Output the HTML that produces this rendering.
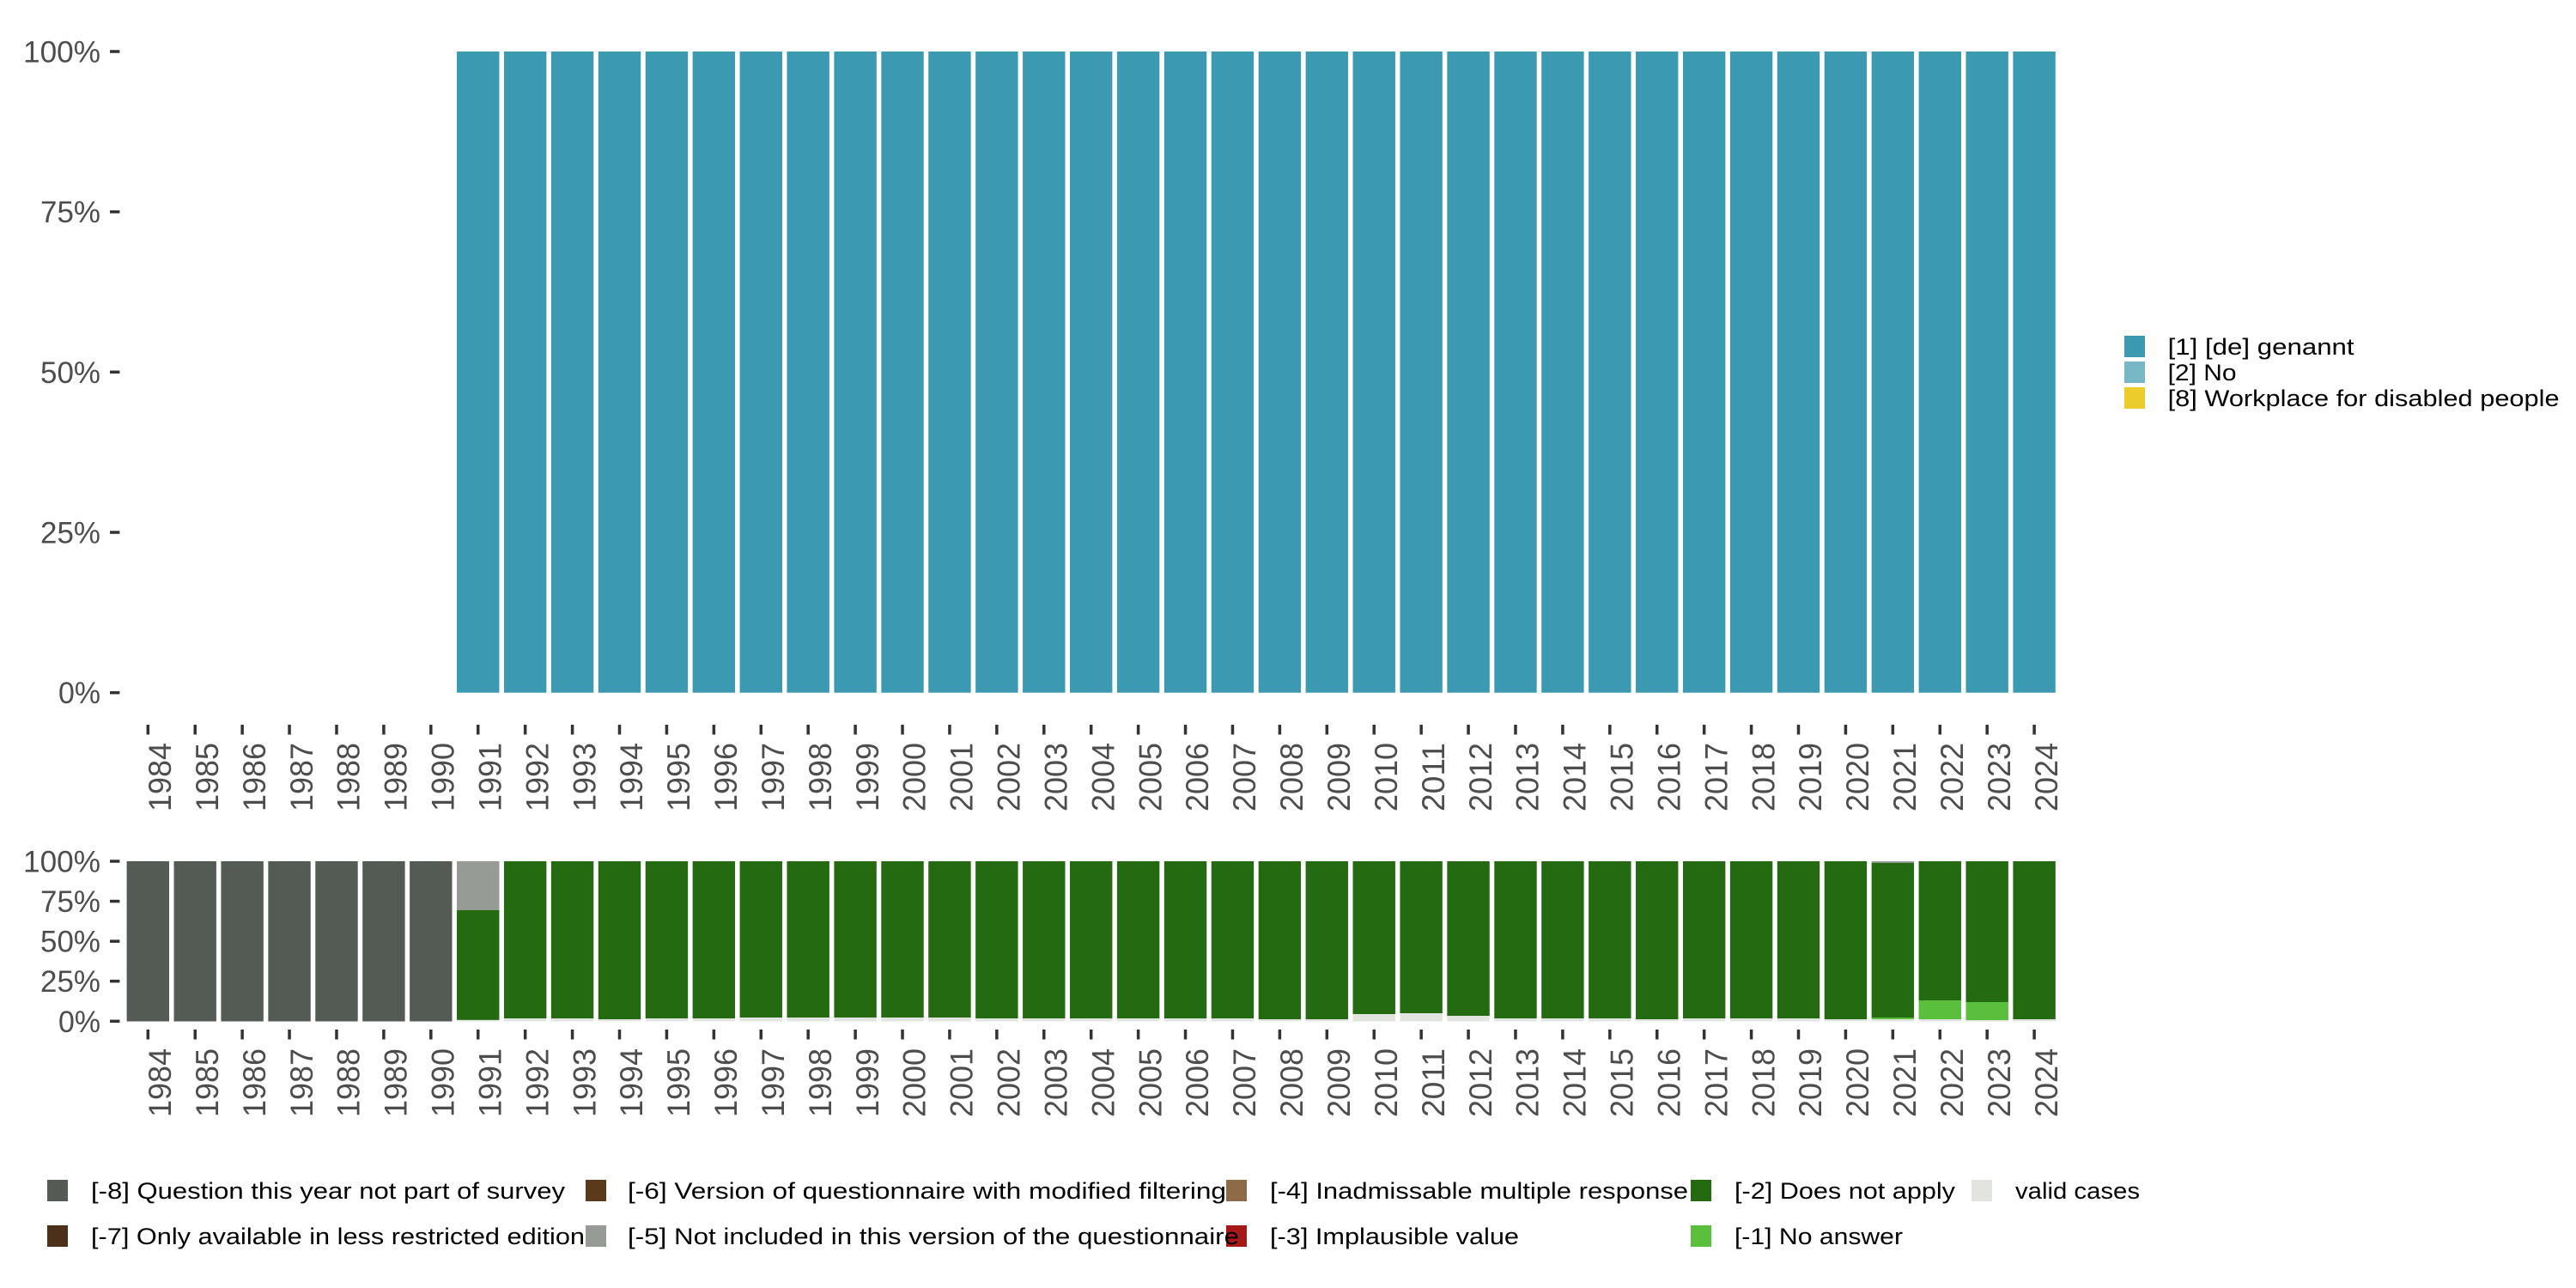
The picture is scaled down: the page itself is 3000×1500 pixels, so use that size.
<!DOCTYPE html>
<html>
<head>
<meta charset="utf-8">
<style>
html,body{margin:0;padding:0;background:#fff;}
svg{display:block;}
text{font-family:"Liberation Sans","DejaVu Sans",sans-serif;}
.ax{fill:#4D4D4D;font-size:35px;}
.axx{fill:#4D4D4D;font-size:37px;}
.lg{fill:#000;font-size:27px;}
</style>
</head>
<body>
<svg width="3000" height="1500" viewBox="0 0 3000 1500" xmlns="http://www.w3.org/2000/svg">
<rect x="0" y="0" width="3000" height="1500" fill="#fff"/>

<!-- ===== TOP PANEL ===== -->
<g fill="#3B9AB2">
<rect x="532.04" y="60" width="49.4" height="746.7"/>
<rect x="586.96" y="60" width="49.4" height="746.7"/>
<rect x="641.88" y="60" width="49.4" height="746.7"/>
<rect x="696.80" y="60" width="49.4" height="746.7"/>
<rect x="751.72" y="60" width="49.4" height="746.7"/>
<rect x="806.64" y="60" width="49.4" height="746.7"/>
<rect x="861.56" y="60" width="49.4" height="746.7"/>
<rect x="916.48" y="60" width="49.4" height="746.7"/>
<rect x="971.40" y="60" width="49.4" height="746.7"/>
<rect x="1026.32" y="60" width="49.4" height="746.7"/>
<rect x="1081.24" y="60" width="49.4" height="746.7"/>
<rect x="1136.16" y="60" width="49.4" height="746.7"/>
<rect x="1191.08" y="60" width="49.4" height="746.7"/>
<rect x="1246.00" y="60" width="49.4" height="746.7"/>
<rect x="1300.92" y="60" width="49.4" height="746.7"/>
<rect x="1355.84" y="60" width="49.4" height="746.7"/>
<rect x="1410.76" y="60" width="49.4" height="746.7"/>
<rect x="1465.68" y="60" width="49.4" height="746.7"/>
<rect x="1520.60" y="60" width="49.4" height="746.7"/>
<rect x="1575.52" y="60" width="49.4" height="746.7"/>
<rect x="1630.44" y="60" width="49.4" height="746.7"/>
<rect x="1685.36" y="60" width="49.4" height="746.7"/>
<rect x="1740.28" y="60" width="49.4" height="746.7"/>
<rect x="1795.20" y="60" width="49.4" height="746.7"/>
<rect x="1850.12" y="60" width="49.4" height="746.7"/>
<rect x="1905.04" y="60" width="49.4" height="746.7"/>
<rect x="1959.96" y="60" width="49.4" height="746.7"/>
<rect x="2014.88" y="60" width="49.4" height="746.7"/>
<rect x="2069.80" y="60" width="49.4" height="746.7"/>
<rect x="2124.72" y="60" width="49.4" height="746.7"/>
<rect x="2179.64" y="60" width="49.4" height="746.7"/>
<rect x="2234.56" y="60" width="49.4" height="746.7"/>
<rect x="2289.48" y="60" width="49.4" height="746.7"/>
<rect x="2344.40" y="60" width="49.4" height="746.7"/>
</g>

<!-- top y axis -->
<g fill="#333">
<rect x="128" y="58.25" width="11.4" height="3.5"/>
<rect x="128" y="244.95" width="11.4" height="3.5"/>
<rect x="128" y="431.55" width="11.4" height="3.5"/>
<rect x="128" y="618.25" width="11.4" height="3.5"/>
<rect x="128" y="804.95" width="11.4" height="3.5"/>
</g>
<g class="ax" text-anchor="end">
<text x="117" y="72.5" textLength="90" lengthAdjust="spacingAndGlyphs">100%</text>
<text x="117" y="259.2" textLength="70" lengthAdjust="spacingAndGlyphs">75%</text>
<text x="117" y="445.8" textLength="70" lengthAdjust="spacingAndGlyphs">50%</text>
<text x="117" y="632.5" textLength="70" lengthAdjust="spacingAndGlyphs">25%</text>
<text x="117" y="819.2" textLength="49" lengthAdjust="spacingAndGlyphs">0%</text>
</g>

<!-- top x ticks -->
<g fill="#333">
<rect x="170.55" y="844" width="3.5" height="11.5"/>
<rect x="225.47" y="844" width="3.5" height="11.5"/>
<rect x="280.39" y="844" width="3.5" height="11.5"/>
<rect x="335.31" y="844" width="3.5" height="11.5"/>
<rect x="390.23" y="844" width="3.5" height="11.5"/>
<rect x="445.15" y="844" width="3.5" height="11.5"/>
<rect x="500.07" y="844" width="3.5" height="11.5"/>
<rect x="554.99" y="844" width="3.5" height="11.5"/>
<rect x="609.91" y="844" width="3.5" height="11.5"/>
<rect x="664.83" y="844" width="3.5" height="11.5"/>
<rect x="719.75" y="844" width="3.5" height="11.5"/>
<rect x="774.67" y="844" width="3.5" height="11.5"/>
<rect x="829.59" y="844" width="3.5" height="11.5"/>
<rect x="884.51" y="844" width="3.5" height="11.5"/>
<rect x="939.43" y="844" width="3.5" height="11.5"/>
<rect x="994.35" y="844" width="3.5" height="11.5"/>
<rect x="1049.27" y="844" width="3.5" height="11.5"/>
<rect x="1104.19" y="844" width="3.5" height="11.5"/>
<rect x="1159.11" y="844" width="3.5" height="11.5"/>
<rect x="1214.03" y="844" width="3.5" height="11.5"/>
<rect x="1268.95" y="844" width="3.5" height="11.5"/>
<rect x="1323.87" y="844" width="3.5" height="11.5"/>
<rect x="1378.79" y="844" width="3.5" height="11.5"/>
<rect x="1433.71" y="844" width="3.5" height="11.5"/>
<rect x="1488.63" y="844" width="3.5" height="11.5"/>
<rect x="1543.55" y="844" width="3.5" height="11.5"/>
<rect x="1598.47" y="844" width="3.5" height="11.5"/>
<rect x="1653.39" y="844" width="3.5" height="11.5"/>
<rect x="1708.31" y="844" width="3.5" height="11.5"/>
<rect x="1763.23" y="844" width="3.5" height="11.5"/>
<rect x="1818.15" y="844" width="3.5" height="11.5"/>
<rect x="1873.07" y="844" width="3.5" height="11.5"/>
<rect x="1927.99" y="844" width="3.5" height="11.5"/>
<rect x="1982.91" y="844" width="3.5" height="11.5"/>
<rect x="2037.83" y="844" width="3.5" height="11.5"/>
<rect x="2092.75" y="844" width="3.5" height="11.5"/>
<rect x="2147.67" y="844" width="3.5" height="11.5"/>
<rect x="2202.59" y="844" width="3.5" height="11.5"/>
<rect x="2257.51" y="844" width="3.5" height="11.5"/>
<rect x="2312.43" y="844" width="3.5" height="11.5"/>
<rect x="2367.35" y="844" width="3.5" height="11.5"/>
</g>

<!-- top x labels -->
<g class="axx" text-anchor="end">
<text transform="translate(199.0,865) rotate(-90)" textLength="80" lengthAdjust="spacingAndGlyphs">1984</text>
<text transform="translate(253.9,865) rotate(-90)" textLength="80" lengthAdjust="spacingAndGlyphs">1985</text>
<text transform="translate(308.8,865) rotate(-90)" textLength="80" lengthAdjust="spacingAndGlyphs">1986</text>
<text transform="translate(363.8,865) rotate(-90)" textLength="80" lengthAdjust="spacingAndGlyphs">1987</text>
<text transform="translate(418.7,865) rotate(-90)" textLength="80" lengthAdjust="spacingAndGlyphs">1988</text>
<text transform="translate(473.6,865) rotate(-90)" textLength="80" lengthAdjust="spacingAndGlyphs">1989</text>
<text transform="translate(528.5,865) rotate(-90)" textLength="80" lengthAdjust="spacingAndGlyphs">1990</text>
<text transform="translate(583.4,865) rotate(-90)" textLength="80" lengthAdjust="spacingAndGlyphs">1991</text>
<text transform="translate(638.4,865) rotate(-90)" textLength="80" lengthAdjust="spacingAndGlyphs">1992</text>
<text transform="translate(693.3,865) rotate(-90)" textLength="80" lengthAdjust="spacingAndGlyphs">1993</text>
<text transform="translate(748.2,865) rotate(-90)" textLength="80" lengthAdjust="spacingAndGlyphs">1994</text>
<text transform="translate(803.1,865) rotate(-90)" textLength="80" lengthAdjust="spacingAndGlyphs">1995</text>
<text transform="translate(858.0,865) rotate(-90)" textLength="80" lengthAdjust="spacingAndGlyphs">1996</text>
<text transform="translate(913.0,865) rotate(-90)" textLength="80" lengthAdjust="spacingAndGlyphs">1997</text>
<text transform="translate(967.9,865) rotate(-90)" textLength="80" lengthAdjust="spacingAndGlyphs">1998</text>
<text transform="translate(1022.8,865) rotate(-90)" textLength="80" lengthAdjust="spacingAndGlyphs">1999</text>
<text transform="translate(1077.7,865) rotate(-90)" textLength="80" lengthAdjust="spacingAndGlyphs">2000</text>
<text transform="translate(1132.6,865) rotate(-90)" textLength="80" lengthAdjust="spacingAndGlyphs">2001</text>
<text transform="translate(1187.6,865) rotate(-90)" textLength="80" lengthAdjust="spacingAndGlyphs">2002</text>
<text transform="translate(1242.5,865) rotate(-90)" textLength="80" lengthAdjust="spacingAndGlyphs">2003</text>
<text transform="translate(1297.4,865) rotate(-90)" textLength="80" lengthAdjust="spacingAndGlyphs">2004</text>
<text transform="translate(1352.3,865) rotate(-90)" textLength="80" lengthAdjust="spacingAndGlyphs">2005</text>
<text transform="translate(1407.2,865) rotate(-90)" textLength="80" lengthAdjust="spacingAndGlyphs">2006</text>
<text transform="translate(1462.2,865) rotate(-90)" textLength="80" lengthAdjust="spacingAndGlyphs">2007</text>
<text transform="translate(1517.1,865) rotate(-90)" textLength="80" lengthAdjust="spacingAndGlyphs">2008</text>
<text transform="translate(1572.0,865) rotate(-90)" textLength="80" lengthAdjust="spacingAndGlyphs">2009</text>
<text transform="translate(1626.9,865) rotate(-90)" textLength="80" lengthAdjust="spacingAndGlyphs">2010</text>
<text transform="translate(1681.8,865) rotate(-90)" textLength="80" lengthAdjust="spacingAndGlyphs">2011</text>
<text transform="translate(1736.8,865) rotate(-90)" textLength="80" lengthAdjust="spacingAndGlyphs">2012</text>
<text transform="translate(1791.7,865) rotate(-90)" textLength="80" lengthAdjust="spacingAndGlyphs">2013</text>
<text transform="translate(1846.6,865) rotate(-90)" textLength="80" lengthAdjust="spacingAndGlyphs">2014</text>
<text transform="translate(1901.5,865) rotate(-90)" textLength="80" lengthAdjust="spacingAndGlyphs">2015</text>
<text transform="translate(1956.4,865) rotate(-90)" textLength="80" lengthAdjust="spacingAndGlyphs">2016</text>
<text transform="translate(2011.4,865) rotate(-90)" textLength="80" lengthAdjust="spacingAndGlyphs">2017</text>
<text transform="translate(2066.3,865) rotate(-90)" textLength="80" lengthAdjust="spacingAndGlyphs">2018</text>
<text transform="translate(2121.2,865) rotate(-90)" textLength="80" lengthAdjust="spacingAndGlyphs">2019</text>
<text transform="translate(2176.1,865) rotate(-90)" textLength="80" lengthAdjust="spacingAndGlyphs">2020</text>
<text transform="translate(2231.0,865) rotate(-90)" textLength="80" lengthAdjust="spacingAndGlyphs">2021</text>
<text transform="translate(2286.0,865) rotate(-90)" textLength="80" lengthAdjust="spacingAndGlyphs">2022</text>
<text transform="translate(2340.9,865) rotate(-90)" textLength="80" lengthAdjust="spacingAndGlyphs">2023</text>
<text transform="translate(2395.8,865) rotate(-90)" textLength="80" lengthAdjust="spacingAndGlyphs">2024</text>
</g>

<!-- top legend -->
<rect x="2474" y="391" width="24" height="25" fill="#3B9AB2"/>
<rect x="2474" y="421" width="24" height="25" fill="#78B7C5"/>
<rect x="2474" y="451" width="24" height="25" fill="#EBCC2A"/>
<g class="lg">
<text x="2524.6" y="413" textLength="217" lengthAdjust="spacingAndGlyphs">[1] [de] genannt</text>
<text x="2524.6" y="443" textLength="80" lengthAdjust="spacingAndGlyphs">[2] No</text>
<text x="2524.6" y="473" textLength="456" lengthAdjust="spacingAndGlyphs">[8] Workplace for disabled people</text>
</g>

<!-- ===== BOTTOM PANEL ===== -->
<g fill="#545A54">
<rect x="147.60" y="1003" width="49.4" height="186.5"/>
<rect x="202.52" y="1003" width="49.4" height="186.5"/>
<rect x="257.44" y="1003" width="49.4" height="186.5"/>
<rect x="312.36" y="1003" width="49.4" height="186.5"/>
<rect x="367.28" y="1003" width="49.4" height="186.5"/>
<rect x="422.20" y="1003" width="49.4" height="186.5"/>
<rect x="477.12" y="1003" width="49.4" height="186.5"/>
</g>
<g fill="#E1E4DF">
<rect x="532.04" y="1003" width="49.4" height="186.5"/>
<rect x="586.96" y="1003" width="49.4" height="186.5"/>
<rect x="641.88" y="1003" width="49.4" height="186.5"/>
<rect x="696.80" y="1003" width="49.4" height="186.5"/>
<rect x="751.72" y="1003" width="49.4" height="186.5"/>
<rect x="806.64" y="1003" width="49.4" height="186.5"/>
<rect x="861.56" y="1003" width="49.4" height="186.5"/>
<rect x="916.48" y="1003" width="49.4" height="186.5"/>
<rect x="971.40" y="1003" width="49.4" height="186.5"/>
<rect x="1026.32" y="1003" width="49.4" height="186.5"/>
<rect x="1081.24" y="1003" width="49.4" height="186.5"/>
<rect x="1136.16" y="1003" width="49.4" height="186.5"/>
<rect x="1191.08" y="1003" width="49.4" height="186.5"/>
<rect x="1246.00" y="1003" width="49.4" height="186.5"/>
<rect x="1300.92" y="1003" width="49.4" height="186.5"/>
<rect x="1355.84" y="1003" width="49.4" height="186.5"/>
<rect x="1410.76" y="1003" width="49.4" height="186.5"/>
<rect x="1465.68" y="1003" width="49.4" height="186.5"/>
<rect x="1520.60" y="1003" width="49.4" height="186.5"/>
<rect x="1575.52" y="1003" width="49.4" height="186.5"/>
<rect x="1630.44" y="1003" width="49.4" height="186.5"/>
<rect x="1685.36" y="1003" width="49.4" height="186.5"/>
<rect x="1740.28" y="1003" width="49.4" height="186.5"/>
<rect x="1795.20" y="1003" width="49.4" height="186.5"/>
<rect x="1850.12" y="1003" width="49.4" height="186.5"/>
<rect x="1905.04" y="1003" width="49.4" height="186.5"/>
<rect x="1959.96" y="1003" width="49.4" height="186.5"/>
<rect x="2014.88" y="1003" width="49.4" height="186.5"/>
<rect x="2069.80" y="1003" width="49.4" height="186.5"/>
<rect x="2124.72" y="1003" width="49.4" height="186.5"/>
<rect x="2179.64" y="1003" width="49.4" height="186.5"/>
<rect x="2234.56" y="1003" width="49.4" height="186.5"/>
<rect x="2289.48" y="1003" width="49.4" height="186.5"/>
<rect x="2344.40" y="1003" width="49.4" height="186.5"/>
</g>
<g fill="#5BBF3E">
<rect x="2179.64" y="1185" width="49.4" height="2"/>
<rect x="2234.56" y="1165" width="49.4" height="22"/>
<rect x="2289.48" y="1167" width="49.4" height="21"/>
</g>
<g fill="#236A11">
<rect x="532.04" y="1060" width="49.4" height="127.8"/>
<rect x="586.96" y="1003" width="49.4" height="183"/>
<rect x="641.88" y="1003" width="49.4" height="183"/>
<rect x="696.80" y="1003" width="49.4" height="184"/>
<rect x="751.72" y="1003" width="49.4" height="183"/>
<rect x="806.64" y="1003" width="49.4" height="183"/>
<rect x="861.56" y="1003" width="49.4" height="182"/>
<rect x="916.48" y="1003" width="49.4" height="182"/>
<rect x="971.40" y="1003" width="49.4" height="182"/>
<rect x="1026.32" y="1003" width="49.4" height="182"/>
<rect x="1081.24" y="1003" width="49.4" height="182"/>
<rect x="1136.16" y="1003" width="49.4" height="183"/>
<rect x="1191.08" y="1003" width="49.4" height="183"/>
<rect x="1246.00" y="1003" width="49.4" height="183"/>
<rect x="1300.92" y="1003" width="49.4" height="183"/>
<rect x="1355.84" y="1003" width="49.4" height="183"/>
<rect x="1410.76" y="1003" width="49.4" height="183"/>
<rect x="1465.68" y="1003" width="49.4" height="184"/>
<rect x="1520.60" y="1003" width="49.4" height="184"/>
<rect x="1575.52" y="1003" width="49.4" height="178"/>
<rect x="1630.44" y="1003" width="49.4" height="177"/>
<rect x="1685.36" y="1003" width="49.4" height="180"/>
<rect x="1740.28" y="1003" width="49.4" height="183"/>
<rect x="1795.20" y="1003" width="49.4" height="183"/>
<rect x="1850.12" y="1003" width="49.4" height="183"/>
<rect x="1905.04" y="1003" width="49.4" height="184"/>
<rect x="1959.96" y="1003" width="49.4" height="183"/>
<rect x="2014.88" y="1003" width="49.4" height="183"/>
<rect x="2069.80" y="1003" width="49.4" height="183"/>
<rect x="2124.72" y="1003" width="49.4" height="184"/>
<rect x="2179.64" y="1005" width="49.4" height="180"/>
<rect x="2234.56" y="1003" width="49.4" height="162"/>
<rect x="2289.48" y="1003" width="49.4" height="164"/>
<rect x="2344.40" y="1003" width="49.4" height="184"/>
</g>
<g fill="#979B95">
<rect x="532.04" y="1003" width="49.4" height="57"/>
<rect x="2179.64" y="1003" width="49.4" height="2"/>
</g>

<!-- bottom y axis -->
<g fill="#333">
<rect x="128" y="1001.25" width="11.4" height="3.5"/>
<rect x="128" y="1047.85" width="11.4" height="3.5"/>
<rect x="128" y="1094.45" width="11.4" height="3.5"/>
<rect x="128" y="1140.95" width="11.4" height="3.5"/>
<rect x="128" y="1187.55" width="11.4" height="3.5"/>
</g>
<g class="ax" text-anchor="end">
<text x="117" y="1015.5" textLength="90" lengthAdjust="spacingAndGlyphs">100%</text>
<text x="117" y="1062.1" textLength="70" lengthAdjust="spacingAndGlyphs">75%</text>
<text x="117" y="1108.7" textLength="70" lengthAdjust="spacingAndGlyphs">50%</text>
<text x="117" y="1155.2" textLength="70" lengthAdjust="spacingAndGlyphs">25%</text>
<text x="117" y="1201.8" textLength="49" lengthAdjust="spacingAndGlyphs">0%</text>
</g>

<!-- bottom x ticks -->
<g fill="#333">
<rect x="170.55" y="1199" width="3.5" height="11.5"/>
<rect x="225.47" y="1199" width="3.5" height="11.5"/>
<rect x="280.39" y="1199" width="3.5" height="11.5"/>
<rect x="335.31" y="1199" width="3.5" height="11.5"/>
<rect x="390.23" y="1199" width="3.5" height="11.5"/>
<rect x="445.15" y="1199" width="3.5" height="11.5"/>
<rect x="500.07" y="1199" width="3.5" height="11.5"/>
<rect x="554.99" y="1199" width="3.5" height="11.5"/>
<rect x="609.91" y="1199" width="3.5" height="11.5"/>
<rect x="664.83" y="1199" width="3.5" height="11.5"/>
<rect x="719.75" y="1199" width="3.5" height="11.5"/>
<rect x="774.67" y="1199" width="3.5" height="11.5"/>
<rect x="829.59" y="1199" width="3.5" height="11.5"/>
<rect x="884.51" y="1199" width="3.5" height="11.5"/>
<rect x="939.43" y="1199" width="3.5" height="11.5"/>
<rect x="994.35" y="1199" width="3.5" height="11.5"/>
<rect x="1049.27" y="1199" width="3.5" height="11.5"/>
<rect x="1104.19" y="1199" width="3.5" height="11.5"/>
<rect x="1159.11" y="1199" width="3.5" height="11.5"/>
<rect x="1214.03" y="1199" width="3.5" height="11.5"/>
<rect x="1268.95" y="1199" width="3.5" height="11.5"/>
<rect x="1323.87" y="1199" width="3.5" height="11.5"/>
<rect x="1378.79" y="1199" width="3.5" height="11.5"/>
<rect x="1433.71" y="1199" width="3.5" height="11.5"/>
<rect x="1488.63" y="1199" width="3.5" height="11.5"/>
<rect x="1543.55" y="1199" width="3.5" height="11.5"/>
<rect x="1598.47" y="1199" width="3.5" height="11.5"/>
<rect x="1653.39" y="1199" width="3.5" height="11.5"/>
<rect x="1708.31" y="1199" width="3.5" height="11.5"/>
<rect x="1763.23" y="1199" width="3.5" height="11.5"/>
<rect x="1818.15" y="1199" width="3.5" height="11.5"/>
<rect x="1873.07" y="1199" width="3.5" height="11.5"/>
<rect x="1927.99" y="1199" width="3.5" height="11.5"/>
<rect x="1982.91" y="1199" width="3.5" height="11.5"/>
<rect x="2037.83" y="1199" width="3.5" height="11.5"/>
<rect x="2092.75" y="1199" width="3.5" height="11.5"/>
<rect x="2147.67" y="1199" width="3.5" height="11.5"/>
<rect x="2202.59" y="1199" width="3.5" height="11.5"/>
<rect x="2257.51" y="1199" width="3.5" height="11.5"/>
<rect x="2312.43" y="1199" width="3.5" height="11.5"/>
<rect x="2367.35" y="1199" width="3.5" height="11.5"/>
</g>

<!-- bottom x labels -->
<g class="axx" text-anchor="end">
<text transform="translate(199.0,1221) rotate(-90)" textLength="80" lengthAdjust="spacingAndGlyphs">1984</text>
<text transform="translate(253.9,1221) rotate(-90)" textLength="80" lengthAdjust="spacingAndGlyphs">1985</text>
<text transform="translate(308.8,1221) rotate(-90)" textLength="80" lengthAdjust="spacingAndGlyphs">1986</text>
<text transform="translate(363.8,1221) rotate(-90)" textLength="80" lengthAdjust="spacingAndGlyphs">1987</text>
<text transform="translate(418.7,1221) rotate(-90)" textLength="80" lengthAdjust="spacingAndGlyphs">1988</text>
<text transform="translate(473.6,1221) rotate(-90)" textLength="80" lengthAdjust="spacingAndGlyphs">1989</text>
<text transform="translate(528.5,1221) rotate(-90)" textLength="80" lengthAdjust="spacingAndGlyphs">1990</text>
<text transform="translate(583.4,1221) rotate(-90)" textLength="80" lengthAdjust="spacingAndGlyphs">1991</text>
<text transform="translate(638.4,1221) rotate(-90)" textLength="80" lengthAdjust="spacingAndGlyphs">1992</text>
<text transform="translate(693.3,1221) rotate(-90)" textLength="80" lengthAdjust="spacingAndGlyphs">1993</text>
<text transform="translate(748.2,1221) rotate(-90)" textLength="80" lengthAdjust="spacingAndGlyphs">1994</text>
<text transform="translate(803.1,1221) rotate(-90)" textLength="80" lengthAdjust="spacingAndGlyphs">1995</text>
<text transform="translate(858.0,1221) rotate(-90)" textLength="80" lengthAdjust="spacingAndGlyphs">1996</text>
<text transform="translate(913.0,1221) rotate(-90)" textLength="80" lengthAdjust="spacingAndGlyphs">1997</text>
<text transform="translate(967.9,1221) rotate(-90)" textLength="80" lengthAdjust="spacingAndGlyphs">1998</text>
<text transform="translate(1022.8,1221) rotate(-90)" textLength="80" lengthAdjust="spacingAndGlyphs">1999</text>
<text transform="translate(1077.7,1221) rotate(-90)" textLength="80" lengthAdjust="spacingAndGlyphs">2000</text>
<text transform="translate(1132.6,1221) rotate(-90)" textLength="80" lengthAdjust="spacingAndGlyphs">2001</text>
<text transform="translate(1187.6,1221) rotate(-90)" textLength="80" lengthAdjust="spacingAndGlyphs">2002</text>
<text transform="translate(1242.5,1221) rotate(-90)" textLength="80" lengthAdjust="spacingAndGlyphs">2003</text>
<text transform="translate(1297.4,1221) rotate(-90)" textLength="80" lengthAdjust="spacingAndGlyphs">2004</text>
<text transform="translate(1352.3,1221) rotate(-90)" textLength="80" lengthAdjust="spacingAndGlyphs">2005</text>
<text transform="translate(1407.2,1221) rotate(-90)" textLength="80" lengthAdjust="spacingAndGlyphs">2006</text>
<text transform="translate(1462.2,1221) rotate(-90)" textLength="80" lengthAdjust="spacingAndGlyphs">2007</text>
<text transform="translate(1517.1,1221) rotate(-90)" textLength="80" lengthAdjust="spacingAndGlyphs">2008</text>
<text transform="translate(1572.0,1221) rotate(-90)" textLength="80" lengthAdjust="spacingAndGlyphs">2009</text>
<text transform="translate(1626.9,1221) rotate(-90)" textLength="80" lengthAdjust="spacingAndGlyphs">2010</text>
<text transform="translate(1681.8,1221) rotate(-90)" textLength="80" lengthAdjust="spacingAndGlyphs">2011</text>
<text transform="translate(1736.8,1221) rotate(-90)" textLength="80" lengthAdjust="spacingAndGlyphs">2012</text>
<text transform="translate(1791.7,1221) rotate(-90)" textLength="80" lengthAdjust="spacingAndGlyphs">2013</text>
<text transform="translate(1846.6,1221) rotate(-90)" textLength="80" lengthAdjust="spacingAndGlyphs">2014</text>
<text transform="translate(1901.5,1221) rotate(-90)" textLength="80" lengthAdjust="spacingAndGlyphs">2015</text>
<text transform="translate(1956.4,1221) rotate(-90)" textLength="80" lengthAdjust="spacingAndGlyphs">2016</text>
<text transform="translate(2011.4,1221) rotate(-90)" textLength="80" lengthAdjust="spacingAndGlyphs">2017</text>
<text transform="translate(2066.3,1221) rotate(-90)" textLength="80" lengthAdjust="spacingAndGlyphs">2018</text>
<text transform="translate(2121.2,1221) rotate(-90)" textLength="80" lengthAdjust="spacingAndGlyphs">2019</text>
<text transform="translate(2176.1,1221) rotate(-90)" textLength="80" lengthAdjust="spacingAndGlyphs">2020</text>
<text transform="translate(2231.0,1221) rotate(-90)" textLength="80" lengthAdjust="spacingAndGlyphs">2021</text>
<text transform="translate(2286.0,1221) rotate(-90)" textLength="80" lengthAdjust="spacingAndGlyphs">2022</text>
<text transform="translate(2340.9,1221) rotate(-90)" textLength="80" lengthAdjust="spacingAndGlyphs">2023</text>
<text transform="translate(2395.8,1221) rotate(-90)" textLength="80" lengthAdjust="spacingAndGlyphs">2024</text>
</g>

<!-- bottom legend keys -->
<rect x="55" y="1374" width="24" height="25" fill="#545A54"/>
<rect x="55" y="1427" width="24" height="25" fill="#4D3019"/>
<rect x="682" y="1374" width="24" height="25" fill="#5B3A1A"/>
<rect x="682" y="1427" width="24" height="25" fill="#979B95"/>
<rect x="1428" y="1374" width="24" height="25" fill="#8E6B48"/>
<rect x="1428" y="1427" width="24" height="25" fill="#A51A17"/>
<rect x="1969" y="1374" width="24" height="25" fill="#236A11"/>
<rect x="1969" y="1427" width="24" height="25" fill="#5BBF3E"/>
<rect x="2296" y="1374" width="24" height="25" fill="#E1E4DF"/>

<!-- bottom legend text -->
<g class="lg">
<text x="106" y="1396" textLength="552" lengthAdjust="spacingAndGlyphs">[-8] Question this year not part of survey</text>
<text x="106" y="1449" textLength="575" lengthAdjust="spacingAndGlyphs">[-7] Only available in less restricted edition</text>
<text x="731" y="1396" textLength="697" lengthAdjust="spacingAndGlyphs">[-6] Version of questionnaire with modified filtering</text>
<text x="731" y="1449" textLength="712" lengthAdjust="spacingAndGlyphs">[-5] Not included in this version of the questionnaire</text>
<text x="1479" y="1396" textLength="487" lengthAdjust="spacingAndGlyphs">[-4] Inadmissable multiple response</text>
<text x="1479" y="1449" textLength="290" lengthAdjust="spacingAndGlyphs">[-3] Implausible value</text>
<text x="2020" y="1396" textLength="257" lengthAdjust="spacingAndGlyphs">[-2] Does not apply</text>
<text x="2020" y="1449" textLength="196" lengthAdjust="spacingAndGlyphs">[-1] No answer</text>
<text x="2347" y="1396" textLength="145" lengthAdjust="spacingAndGlyphs">valid cases</text>
</g>
</svg>
</body>
</html>
